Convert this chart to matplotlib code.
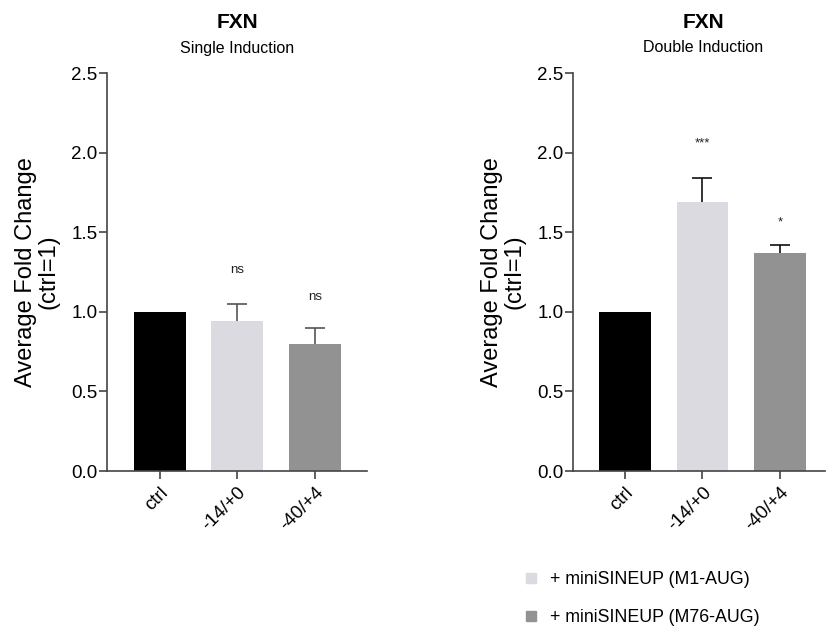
import matplotlib
matplotlib.use("Agg")
import matplotlib.pyplot as plt
from matplotlib.lines import Line2D

plt.rcParams['font.family'] = ['Liberation Sans', 'DejaVu Sans']

categories = ["ctrl", "-14/+0", "-40/+4"]
single_values = [1.0, 0.94, 0.80]
single_errors = [0.0, 0.11, 0.10]
single_labels = ["", "ns", "ns"]
single_label_y = [None, 1.26, 1.09]
double_values = [1.0, 1.69, 1.37]
double_errors = [0.0, 0.15, 0.05]
double_labels = ["", "***", "*"]
double_label_y = [None, 2.06, 1.56]
bar_colors = ["#000000", "#dadae0", "#929292"]
legend_labels = ["+ miniSINEUP (M1-AUG)", "+ miniSINEUP (M76-AUG)"]
yticks = [0.0, 0.5, 1.0, 1.5, 2.0, 2.5]

fig = plt.figure(figsize=(8.26, 6.28), dpi=100)
ax1 = fig.add_axes([107/826, 1-471/628, 260/826, 398/628])
ax2 = fig.add_axes([573/826, 1-471/628, 252/826, 398/628])

spine_col = "#444444"

def draw(ax, values, errors, labels, label_y, xlim, errcol):
    x = list(range(len(categories)))
    ax.bar(x, values, width=0.67, color=bar_colors, zorder=2)
    for xi, v, e in zip(x, values, errors):
        if e > 0:
            _, caps, _ = ax.errorbar([xi], [v], yerr=[[0], [e]], fmt='none', ecolor=errcol,
                                     elinewidth=1.2, capsize=7.5, capthick=1.2, zorder=1)
            for c in caps:
                if abs(c.get_ydata()[0] - v) < 1e-9:
                    c.set_visible(False)
    for xi, lab, ly in zip(x, labels, label_y):
        if lab:
            ax.text(xi, ly, lab, ha='center', va='center', fontsize=9.5, color='#222222')
    ax.set_ylim(0, 2.5)
    ax.set_xlim(*xlim)
    ax.set_yticks(yticks)
    ax.set_yticklabels([f"{t:.1f}" for t in yticks], fontsize=13.5)
    ax.set_xticks(x)
    ax.set_xticklabels(categories, rotation=45, ha='right', va='top',
                       rotation_mode='anchor', fontsize=13.5)
    ax.spines['top'].set_visible(False)
    ax.spines['right'].set_visible(False)
    for s in ['left', 'bottom']:
        ax.spines[s].set_color(spine_col)
        ax.spines[s].set_linewidth(1.2)
    ax.tick_params(axis='both', colors=spine_col, labelcolor='black',
                   length=6, width=1.2)
    ax.tick_params(axis='y', pad=1)
    ax.set_ylabel("Average Fold Change\n(ctrl=1)", fontsize=17, labelpad=8,
                  linespacing=1.08)

draw(ax1, single_values, single_errors, single_labels, single_label_y,
     (-0.68, 2.67), "#555555")
draw(ax2, double_values, double_errors, double_labels, double_label_y,
     (-0.67, 2.58), "#111111")

for xc, sub in [(237, "Single Induction"), (703, "Double Induction")]:
    fig.text(xc/826, 1 - 22/628, "FXN", ha='center', va='center',
             fontsize=15, fontweight='bold')
    fig.text(xc/826, 1 - 48/628, sub, ha='center', va='center', fontsize=11.5)

handles = [Line2D([0], [0], marker='s', linestyle='none', markersize=7,
                  markerfacecolor=c, markeredgecolor=c) for c in bar_colors[1:]]
fig.legend(handles, legend_labels, loc='upper left',
           bbox_to_anchor=(506/826, 1 - 555/628), frameon=False, fontsize=12.8,
           handletextpad=0.55, labelspacing=1.2, handlelength=1.0)

fig.savefig("out.png", dpi=100)
